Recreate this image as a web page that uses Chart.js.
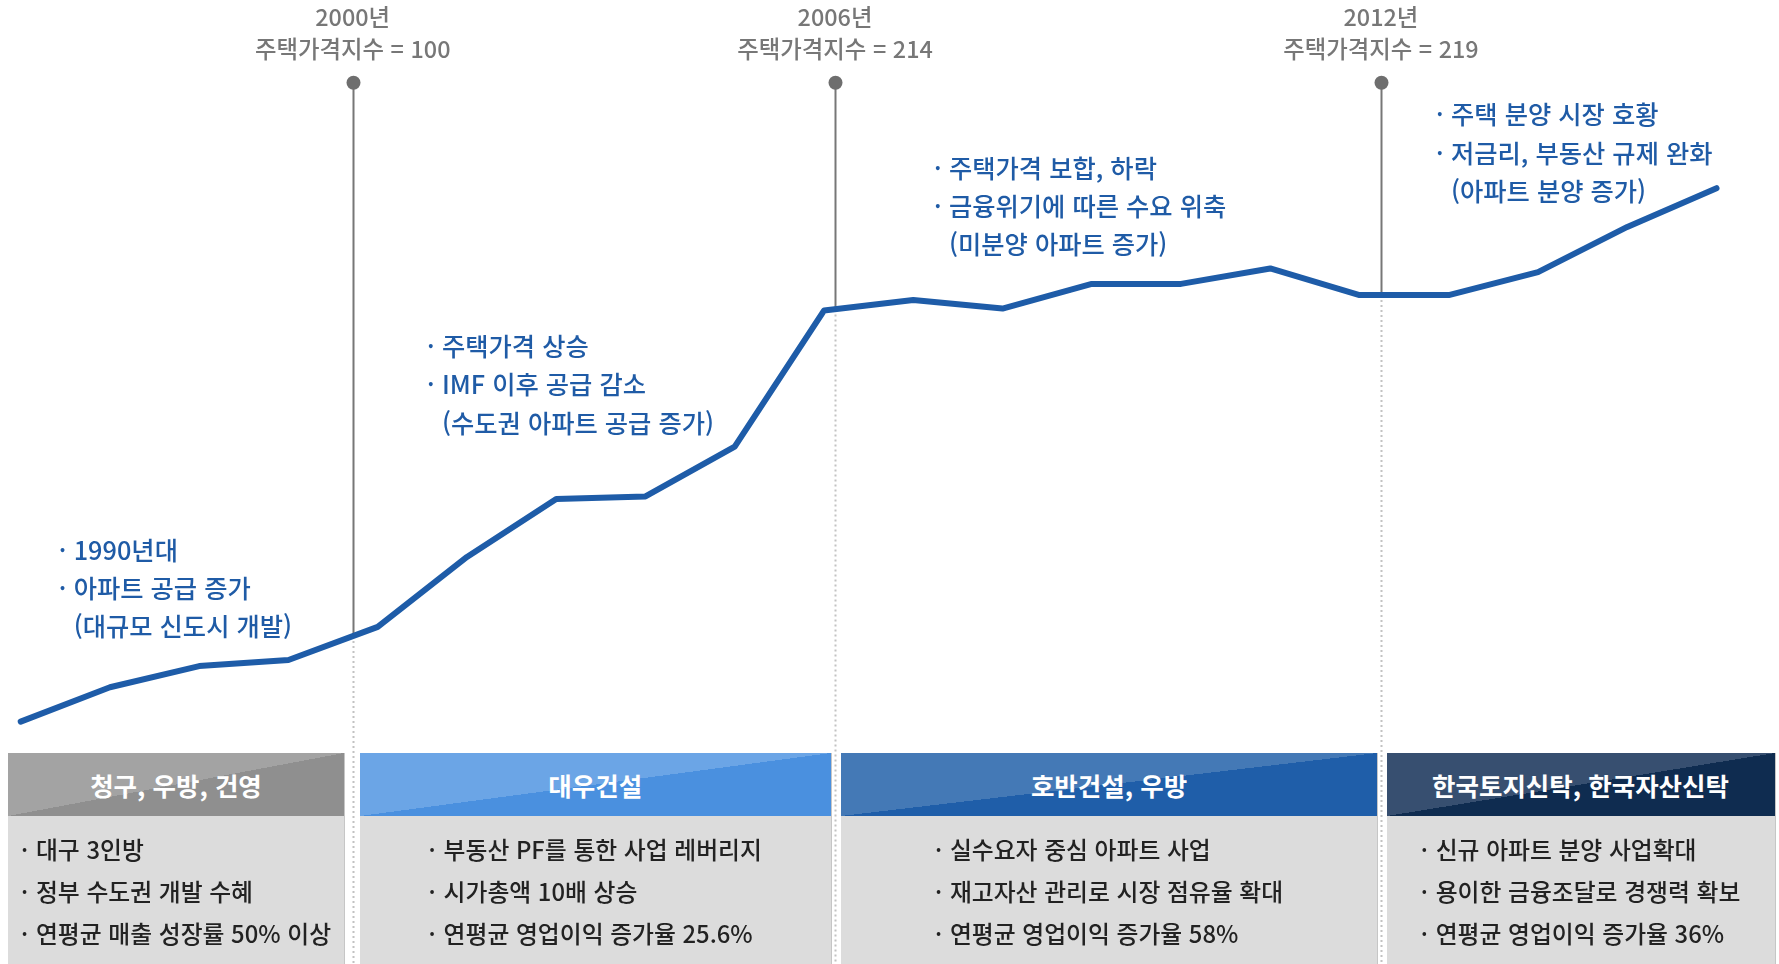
<!DOCTYPE html>
<html lang="ko">
<head>
<meta charset="utf-8">
<script src="https://cdn.jsdelivr.net/npm/chart.js@4.4.0/dist/chart.umd.min.js"></script>
<style>
html,body{margin:0;padding:0;background:#fff;}
body{width:1779px;height:964px;overflow:hidden;position:relative;font-family:"Noto Sans CJK KR","Noto Sans",sans-serif;}
#wrap{position:absolute;left:0;top:0;width:1779px;height:964px;}
.mlabel{position:absolute;color:#777;font-size:23.4px;font-weight:500;line-height:31.7px;text-align:center;white-space:nowrap;transform:translateX(-50%);}
.note{position:absolute;color:#1f5ba6;font-size:25.3px;font-weight:500;line-height:38.3px;white-space:nowrap;}
.note .l{position:relative;padding-left:15px;}
.note .b::before{content:"·";position:absolute;left:0;}
.box{position:absolute;top:753px;height:230px;background:#dcdcdc;box-shadow:1px 0 0 #c6c6c6;}
.box .hd{height:63px;line-height:63px;text-align:center;color:#fff;font-weight:bold;font-size:25.5px;white-space:nowrap;}
.box .bd{display:flex;justify-content:center;padding-top:12px;}
.box .bd .in{color:#222;font-size:23.8px;font-weight:500;line-height:42px;white-space:nowrap;}
.box .bd .l{position:relative;padding-left:15px;}
.box .bd .l::before{content:"·";position:absolute;left:0;}
</style>
</head>
<body>
<div id="wrap"><canvas id="c" width="1779" height="964"></canvas></div>
<script>
// ---- data ----
const periods = [0,1,2,3,4,5,6,7,8,9,10,11,12,13,14,15,16,17,18,19];
const priceIndex = [70.1, 82.1, 89.5, 91.6, 103.2, 127.6, 147.8, 148.7, 166.1, 213.6, 217.3, 214.3, 222.9, 222.9, 228.3, 219.0, 219.0, 227.0, 242.8, 256.3];
const markerYears = ['2000년', '2006년', '2012년'];
const markerValues = [100, 214, 219];
const markerAt = [3.72, 9.124, 15.24];
const markerTop = 293.1;
const noteLines = [
  ['· 1990년대', '· 아파트 공급 증가', '(대규모 신도시 개발)'],
  ['· 주택가격 상승', '· IMF 이후 공급 감소', '(수도권 아파트 공급 증가)'],
  ['· 주택가격 보합, 하락', '· 금융위기에 따른 수요 위축', '(미분양 아파트 증가)'],
  ['· 주택 분양 시장 호황', '· 저금리, 부동산 규제 완화', '(아파트 분양 증가)']
];
const companies = ['청구, 우방, 건영', '대우건설', '호반건설, 우방', '한국토지신탁, 한국자산신탁'];
const companyPoints = [
  ['대구 3인방', '정부 수도권 개발 수혜', '연평균 매출 성장률 50% 이상'],
  ['부동산 PF를 통한 사업 레버리지', '시가총액 10배 상승', '연평균 영업이익 증가율 25.6%'],
  ['실수요자 중심 아파트 사업', '재고자산 관리로 시장 점유율 확대', '연평균 영업이익 증가율 58%'],
  ['신규 아파트 분양 사업확대', '용이한 금융조달로 경쟁력 확보', '연평균 영업이익 증가율 36%']
];

// ---- layout / style (not data) ----
const notePos = [[58.7, 529.5], [427, 326], [934, 147.5], [1436, 94.3]];
const boxPos = [[8, 344], [360, 830.5], [841, 1377], [1386.5, 1774.5]];
const boxColors = [['#a3a3a3', '#8f8f8f'], ['#6ba5e6', '#4a90df'], ['#4479b6', '#1f5ea9'], ['#374f70', '#0f2c50']];

const markerPlugin = {
  id: 'markers',
  beforeDatasetsDraw(chart) {
    const {ctx, scales: {x, y}} = chart;
    markerAt.forEach((mx, i) => {
      const px = Math.round(x.getPixelForValue(mx)) + 0.5;
      const pTop = y.getPixelForValue(markerTop);
      const pMid = y.getPixelForValue(markerValues[i]);
      const pBot = y.getPixelForValue(y.min);
      ctx.save();
      ctx.strokeStyle = '#c2c2c2'; ctx.lineWidth = 2; ctx.setLineDash([2, 3]);
      ctx.beginPath(); ctx.moveTo(px, pMid); ctx.lineTo(px, pBot); ctx.stroke();
      ctx.setLineDash([]); ctx.strokeStyle = '#777'; ctx.lineWidth = 2;
      ctx.beginPath(); ctx.moveTo(px, pTop); ctx.lineTo(px, pMid); ctx.stroke();
      ctx.fillStyle = '#6e6e6e';
      ctx.beginPath(); ctx.arc(px, pTop, 7, 0, Math.PI * 2); ctx.fill();
      ctx.restore();
    });
  }
};

const chart = new Chart(document.getElementById('c'), {
  type: 'line',
  data: {
    datasets: [{
      data: periods.map((p, i) => ({x: p, y: priceIndex[i]})),
      borderColor: '#1e5ca8',
      borderWidth: 6,
      pointRadius: 0,
      tension: 0,
      borderCapStyle: 'round',
      borderJoinStyle: 'round',
      fill: false
    }]
  },
  options: {
    responsive: false,
    animation: false,
    layout: {padding: 0},
    plugins: {legend: {display: false}, tooltip: {enabled: false}},
    scales: {
      x: {type: 'linear', display: false, min: -0.232, max: 19.70},
      y: {type: 'linear', display: false, min: -14.5, max: 322}
    }
  },
  plugins: [markerPlugin]
});

// marker labels anchored to the x scale
markerAt.forEach((mx, i) => {
  const d = document.createElement('div');
  d.className = 'mlabel';
  d.style.left = chart.scales.x.getPixelForValue(mx) + 'px';
  d.style.top = '1px';
  d.innerHTML = markerYears[i] + '<br>주택가격지수 = ' + markerValues[i];
  document.body.appendChild(d);
});

// notes
noteLines.forEach((lines, i) => {
  const d = document.createElement('div');
  d.className = 'note';
  d.style.left = notePos[i][0] + 'px';
  d.style.top = notePos[i][1] + 'px';
  lines.forEach(t => {
    const l = document.createElement('div');
    if (t.startsWith('· ')) { l.className = 'l b'; l.textContent = t.slice(2); }
    else { l.className = 'l'; l.textContent = t; }
    d.appendChild(l);
  });
  document.body.appendChild(d);
});

// company boxes
companies.forEach((name, i) => {
  const b = document.createElement('div');
  b.className = 'box';
  b.style.left = boxPos[i][0] + 'px';
  b.style.width = (boxPos[i][1] - boxPos[i][0]) + 'px';
  const hd = document.createElement('div');
  hd.className = 'hd';
  hd.style.background = 'linear-gradient(to bottom right, ' + boxColors[i][0] + ' 50%, ' + boxColors[i][1] + ' 50%)';
  hd.textContent = name;
  b.appendChild(hd);
  const bd = document.createElement('div');
  bd.className = 'bd';
  const inner = document.createElement('div');
  inner.className = 'in';
  companyPoints[i].forEach(t => {
    const l = document.createElement('div');
    l.className = 'l';
    l.textContent = t;
    inner.appendChild(l);
  });
  bd.appendChild(inner);
  b.appendChild(bd);
  document.body.appendChild(b);
});
</script>
</body>
</html>
